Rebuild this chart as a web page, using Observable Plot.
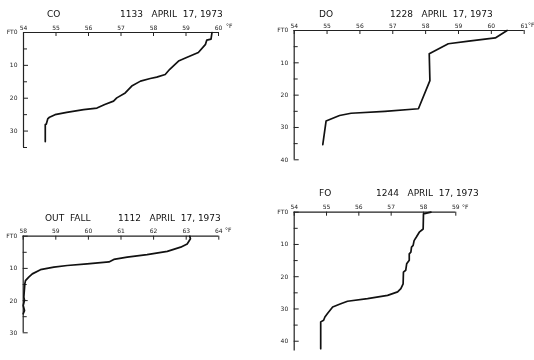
<!DOCTYPE html>
<html><head><meta charset="utf-8">
<script src="https://cdn.jsdelivr.net/npm/d3@7"></script>
<script src="https://cdn.jsdelivr.net/npm/@observablehq/plot@0.6"></script>
<style>
body{margin:0;background:#fff;}
#wrap{position:relative;width:534px;height:360px;overflow:hidden;font-family:"DejaVu Sans",sans-serif;color:#111;background:#fff;}
.panel{position:absolute;will-change:transform;}
.t{position:absolute;font-size:9px;white-space:pre;line-height:1;will-change:transform;}
.u{position:absolute;font-size:6px;white-space:pre;line-height:1;will-change:transform;}
</style></head><body><div id="wrap"></div>
<script>
// CO 1133
const coTemp  = [59.8, 59.77, 59.64, 59.6, 59.38, 59.0, 58.77, 58.5, 58.36, 58.1, 57.9, 57.6, 57.33, 57.13, 56.87, 56.77, 56.5, 56.26, 55.85, 55.33, 54.97, 54.8, 54.75, 54.7, 54.67, 54.67];
const coDepth = [0, 2, 2.3, 3.6, 6.1, 7.7, 8.7, 11.2, 12.8, 13.6, 14.0, 14.8, 16.3, 18.4, 19.9, 20.9, 21.9, 23.0, 23.5, 24.3, 25.0, 25.8, 26.2, 27.9, 28.0, 33.2];
// DO 1228
const doTemp  = [60.48, 60.12, 59.31, 58.69, 58.11, 58.13, 57.78, 56.76, 55.73, 55.38, 54.97, 54.87];
const doDepth = [0, 2.3, 3.3, 4.1, 7.2, 15.5, 24.2, 25.0, 25.6, 26.3, 28, 35.3];
// OUT FALL 1112
const ofTemp  = [63.11, 63.13, 63.03, 62.83, 62.42, 61.8, 61.19, 60.78, 60.63, 59.96, 59.35, 58.94, 58.53, 58.28, 58.17, 58.07, 58.05, 58.02, 58.04, 58.0, 58.04, 58.0];
const ofDepth = [0, 0.8, 2.4, 3.4, 4.7, 5.7, 6.5, 7.2, 8.0, 8.6, 9.1, 9.6, 10.4, 11.7, 12.7, 13.8, 14.8, 18.9, 19.9, 21.5, 23.1, 24.1];
// FO 1244
const foTemp  = [58.23, 58.0, 57.99, 57.87, 57.78, 57.71, 57.68, 57.63, 57.61, 57.56, 57.56, 57.48, 57.45, 57.38, 57.37, 57.3, 57.2, 56.89, 56.27, 55.65, 55.44, 55.19, 55.03, 54.95, 54.91, 54.82, 54.82];
const foDepth = [0, 0.5, 5.2, 6.2, 7.7, 8.8, 10.3, 10.8, 12.4, 12.9, 14.9, 16.0, 18, 18.6, 22.2, 23.7, 24.7, 25.8, 26.8, 27.6, 28.4, 29.4, 31.4, 32.5, 33.5, 34.0, 42.3];

const coTicks = [54, 55, 56, 57, 58, 59, 60];
const doTicks = [54, 55, 56, 57, 58, 59, 60, 61];
const ofTicks = [58, 59, 60, 61, 62, 63, 64];
const foTicks = [54, 55, 56, 57, 58, 59];
const depth30 = [0, 10, 20, 30], minor35 = [5, 15, 25, 35];
const depth40 = [0, 10, 20, 30, 40], minor40 = [5, 15, 25, 35];
const minor30 = [5, 15, 25];

const panels = [
  {name:"CO", time:"1133   APRIL  17, 1973", t:coTemp, d:coDepth, xTicks:coTicks, yMax:35, yTicks:depth30, yMinor:minor35,
   left:0, top:0, ml:23, mr:49, mt:32, mb:33, nameX:47, nameY:10, timeX:120, unitX:226, unitY:23},
  {name:"DO", time:"1228   APRIL  17, 1973", t:doTemp, d:doDepth, xTicks:doTicks, yMax:40, yTicks:depth40, yMinor:minor40,
   left:267, top:0, ml:26.7, mr:10.3, mt:30, mb:20.7, nameX:319, nameY:10, timeX:390, unitX:528, unitY:22},
  {name:"OUT  FALL", time:"1112   APRIL  17, 1973", t:ofTemp, d:ofDepth, xTicks:ofTicks, yMax:30, yTicks:depth30, yMinor:minor30,
   left:0, top:180, ml:22.7, mr:48.7, mt:55.7, mb:27.7, nameX:45, nameY:214, timeX:118, unitX:225, unitY:227},
  {name:"FO", time:"1244   APRIL  17, 1973", t:foTemp, d:foDepth, xTicks:foTicks, yMax:43, yTicks:depth40, yMinor:minor40,
   left:267, top:180, ml:26.7, mr:78.7, mt:31.7, mb:9.6, nameX:319, nameY:189, timeX:376, unitX:462, unitY:204}
];

const wrap = document.getElementById("wrap");
for (const c of panels) {
  const data = c.t.map((t, i) => ({t, d: c.d[i]}));
  const W = 267, H = 180;
  const innerW = W - c.ml - c.mr, innerH = H - c.mt - c.mb;
  const xd = [c.xTicks[0], c.xTicks[c.xTicks.length - 1]];
  const svg = Plot.plot({
    width: W, height: H,
    marginLeft: c.ml, marginRight: c.mr, marginTop: c.mt, marginBottom: c.mb,
    style: {background: "transparent", fontFamily: "DejaVu Sans", fontSize: "6px", color: "#111", overflow: "visible"},
    x: {domain: xd, axis: null},
    y: {domain: [0, c.yMax], reverse: true, axis: null},
    marks: [
      Plot.ruleY([0], {stroke: "#222", strokeWidth: 1.2}),
      Plot.ruleX([xd[0]], {stroke: "#222", strokeWidth: 1.2}),
      Plot.tickX(c.xTicks, {x: d => d, insetBottom: innerH - 4, stroke: "#222"}),
      Plot.tickY(c.yTicks, {y: d => d, insetRight: innerW - 5, stroke: "#222"}),
      Plot.tickY(c.yMinor, {y: d => d, insetRight: innerW - 4, stroke: "#222"}),
      Plot.axisX(c.xTicks, {anchor: "top", tickSize: 0, tickPadding: 3, fill: "#222", label: null}),
      Plot.axisY(c.yTicks, {anchor: "left", tickSize: 0, tickPadding: 6, fill: "#222", label: null, tickFormat: d => d === 0 ? "FT0" : String(d)}),
      Plot.line(data, {x: "t", y: "d", stroke: "#111", strokeWidth: 1.7})
    ]
  });
  svg.classList.add("panel");
  svg.style.left = c.left + "px";
  svg.style.top = c.top + "px";
  wrap.appendChild(svg);
  const n = document.createElement("div");
  n.className = "t"; n.textContent = c.name;
  n.style.left = c.nameX + "px"; n.style.top = c.nameY + "px";
  wrap.appendChild(n);
  const tm = document.createElement("div");
  tm.className = "t"; tm.textContent = c.time;
  tm.style.left = c.timeX + "px"; tm.style.top = c.nameY + "px";
  wrap.appendChild(tm);
  const u = document.createElement("div");
  u.className = "u"; u.textContent = "°F";
  u.style.left = c.unitX + "px"; u.style.top = c.unitY + "px";
  wrap.appendChild(u);
}
</script></body></html>
